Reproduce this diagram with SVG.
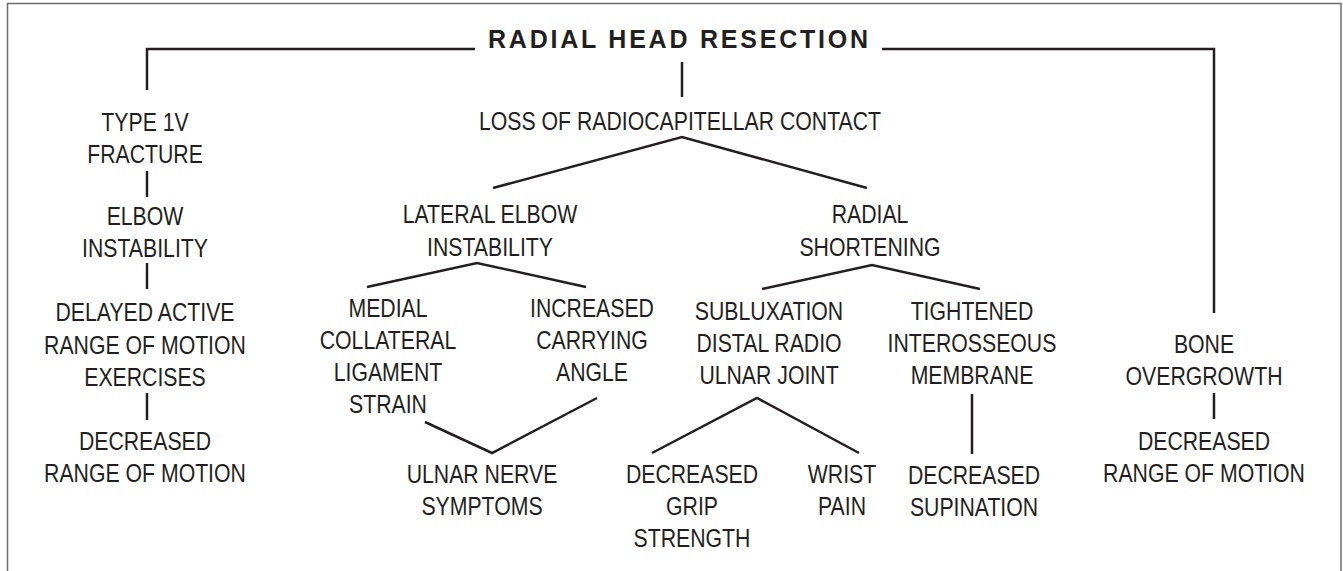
<svg xmlns="http://www.w3.org/2000/svg" width="1343" height="571" viewBox="0 0 1343 571">
<style>
.t{font-family:"Liberation Sans",Arial,sans-serif;font-size:25px;fill:#231f20;text-anchor:middle}
.title{font-family:"Liberation Sans",Arial,sans-serif;font-size:25px;font-weight:bold;fill:#231f20;text-anchor:middle}
.c{fill:none;stroke:#231f20;stroke-width:2.5;stroke-linejoin:miter}
.frame{fill:none;stroke:#6d6d6d;stroke-width:1.5}
</style>
<rect width="1343" height="571" fill="#fff"/>
<path class="frame" d="M7.5 571 V3.5 H1341 V571"/>
<g id="connectors">
<path class="c" d="M147 90 V49 H475"/>
<path class="c" d="M882 49 H1214 V313"/>
<path class="c" d="M682 62 V97"/>
<path class="c" d="M147 171 V197"/>
<path class="c" d="M147 263 V289"/>
<path class="c" d="M147 393 V420"/>
<path class="c" d="M493 188 L682 137 L867 188"/>
<path class="c" d="M367 287 L477 263 L586 287"/>
<path class="c" d="M762 289 L872 265 L980 289"/>
<path class="c" d="M425 422 L492 453 L597 398"/>
<path class="c" d="M652 453 L757 398 L859 453"/>
<path class="c" d="M972 394 V454"/>
<path class="c" d="M1214 393 V419"/>
</g>
<g id="n-title"><text class="title" x="678" y="48" textLength="380" lengthAdjust="spacing">RADIAL HEAD RESECTION</text></g>
<g id="n-type1v" transform="translate(145 0)"><text class="t" transform="scale(0.85 1)"><tspan x="0" y="131.5">TYPE 1V</tspan><tspan x="0" y="163">FRACTURE</tspan></text></g>
<g id="n-elbow" transform="translate(145 0)"><text class="t" transform="scale(0.85 1)"><tspan x="0" y="225.5">ELBOW</tspan><tspan x="0" y="257">INSTABILITY</tspan></text></g>
<g id="n-delayed" transform="translate(145 0)"><text class="t" transform="scale(0.85 1)"><tspan x="0" y="321.5">DELAYED ACTIVE</tspan><tspan x="0" y="354">RANGE OF MOTION</tspan><tspan x="0" y="386">EXERCISES</tspan></text></g>
<g id="n-decrom1" transform="translate(145 0)"><text class="t" transform="scale(0.85 1)"><tspan x="0" y="450">DECREASED</tspan><tspan x="0" y="482">RANGE OF MOTION</tspan></text></g>
<g id="n-loss" transform="translate(680 0)"><text class="t" transform="scale(0.85 1)"><tspan x="0" y="130">LOSS OF RADIOCAPITELLAR CONTACT</tspan></text></g>
<g id="n-lateral" transform="translate(490 0)"><text class="t" transform="scale(0.85 1)"><tspan x="0" y="223.5">LATERAL ELBOW</tspan><tspan x="0" y="256">INSTABILITY</tspan></text></g>
<g id="n-radial" transform="translate(870 0)"><text class="t" transform="scale(0.85 1)"><tspan x="0" y="223.5">RADIAL</tspan><tspan x="0" y="256">SHORTENING</tspan></text></g>
<g id="n-medial" transform="translate(388 0)"><text class="t" transform="scale(0.85 1)"><tspan x="0" y="317.5">MEDIAL</tspan><tspan x="0" y="349.5">COLLATERAL</tspan><tspan x="0" y="381.5">LIGAMENT</tspan><tspan x="0" y="413.5">STRAIN</tspan></text></g>
<g id="n-increased" transform="translate(592 0)"><text class="t" transform="scale(0.85 1)"><tspan x="0" y="317.5">INCREASED</tspan><tspan x="0" y="349.5">CARRYING</tspan><tspan x="0" y="381.5">ANGLE</tspan></text></g>
<g id="n-ulnar" transform="translate(482 0)"><text class="t" transform="scale(0.85 1)"><tspan x="0" y="483">ULNAR NERVE</tspan><tspan x="0" y="515">SYMPTOMS</tspan></text></g>
<g id="n-sublux" transform="translate(769 0)"><text class="t" transform="scale(0.85 1)"><tspan x="0" y="320">SUBLUXATION</tspan><tspan x="0" y="352.5">DISTAL RADIO</tspan><tspan x="0" y="384.5">ULNAR JOINT</tspan></text></g>
<g id="n-grip" transform="translate(692 0)"><text class="t" transform="scale(0.85 1)"><tspan x="0" y="483">DECREASED</tspan><tspan x="0" y="515">GRIP</tspan><tspan x="0" y="547.5">STRENGTH</tspan></text></g>
<g id="n-wrist" transform="translate(842 0)"><text class="t" transform="scale(0.85 1)"><tspan x="0" y="483">WRIST</tspan><tspan x="0" y="515">PAIN</tspan></text></g>
<g id="n-tight" transform="translate(972 0)"><text class="t" transform="scale(0.85 1)"><tspan x="0" y="320">TIGHTENED</tspan><tspan x="0" y="352.5">INTEROSSEOUS</tspan><tspan x="0" y="384.5">MEMBRANE</tspan></text></g>
<g id="n-supin" transform="translate(974 0)"><text class="t" transform="scale(0.85 1)"><tspan x="0" y="484">DECREASED</tspan><tspan x="0" y="516">SUPINATION</tspan></text></g>
<g id="n-bone" transform="translate(1204 0)"><text class="t" transform="scale(0.85 1)"><tspan x="0" y="353">BONE</tspan><tspan x="0" y="385">OVERGROWTH</tspan></text></g>
<g id="n-decrom2" transform="translate(1204 0)"><text class="t" transform="scale(0.85 1)"><tspan x="0" y="450">DECREASED</tspan><tspan x="0" y="482">RANGE OF MOTION</tspan></text></g>
</svg>
